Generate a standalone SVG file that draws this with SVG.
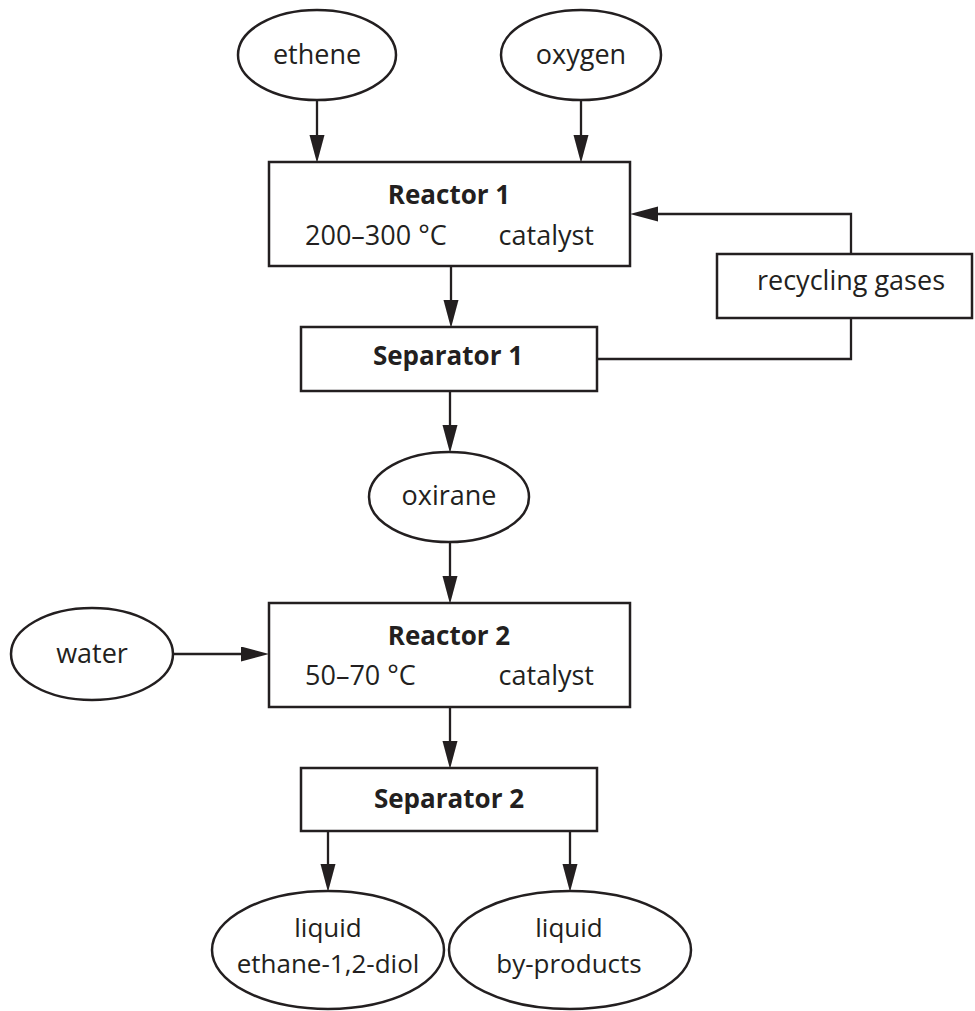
<svg xmlns="http://www.w3.org/2000/svg" width="975" height="1011" viewBox="0 0 975 1011">
<style>
.shape{fill:#fff;stroke:#231f20;stroke-width:2.5}
.line{fill:none;stroke:#231f20;stroke-width:2.3}
.t{font-family:"Open Sans","Noto Sans",sans-serif;font-size:27px;fill:#231f20;text-anchor:middle}
.p{font-size:26px}
.b{font-family:"Open Sans","Noto Sans",sans-serif;font-size:26px;font-weight:bold;fill:#231f20;text-anchor:middle}
.s{text-anchor:start}
.e{text-anchor:end}
</style>
<defs>
<marker id="ah" markerUnits="userSpaceOnUse" markerWidth="29" markerHeight="16" refX="17" refY="7.5" orient="auto">
<path d="M0,0 L28,7.5 L0,15 Z" fill="#231f20"/>
</marker>
</defs>
<rect width="975" height="1011" fill="#fff"/>
<g id="connectors">
<path class="line" d="M317,100 V152" marker-end="url(#ah)"/>
<path class="line" d="M581,100 V152" marker-end="url(#ah)"/>
<path class="line" d="M451,266 V317" marker-end="url(#ah)"/>
<path class="line" d="M450,391 V442" marker-end="url(#ah)"/>
<path class="line" d="M450,542 V593" marker-end="url(#ah)"/>
<path class="line" d="M173,654 H258" marker-end="url(#ah)"/>
<path class="line" d="M450,707 V758" marker-end="url(#ah)"/>
<path class="line" d="M328,831 V881" marker-end="url(#ah)"/>
<path class="line" d="M570,831 V881" marker-end="url(#ah)"/>
<path class="line" d="M597,359 H851 V318"/>
<path class="line" d="M851,254 V214 H641" marker-end="url(#ah)"/>
</g>
<g id="ethene">
<ellipse class="shape" cx="317" cy="55" rx="79" ry="45"/>
<text class="t" x="317" y="64">ethene</text>
</g>
<g id="oxygen">
<ellipse class="shape" cx="581" cy="55" rx="80" ry="45"/>
<text class="t" x="581" y="64">oxygen</text>
</g>
<g id="reactor1">
<rect class="shape" x="269" y="162" width="361" height="104"/>
<text class="b" x="449" y="204">Reactor 1</text>
<text class="t s" x="305" y="245">200–300 °C</text>
<text class="t e" x="594" y="245">catalyst</text>
</g>
<g id="recycling">
<rect class="shape" x="717" y="254" width="255" height="64"/>
<text class="t" x="851" y="290">recycling gases</text>
</g>
<g id="separator1">
<rect class="shape" x="301" y="327" width="296" height="64"/>
<text class="b" x="448" y="365">Separator 1</text>
</g>
<g id="oxirane">
<ellipse class="shape" cx="449" cy="497" rx="80" ry="45"/>
<text class="t" x="449" y="505">oxirane</text>
</g>
<g id="water">
<ellipse class="shape" cx="92" cy="654" rx="81" ry="46"/>
<text class="t" x="92" y="663">water</text>
</g>
<g id="reactor2">
<rect class="shape" x="269" y="603" width="361" height="104"/>
<text class="b" x="449" y="645">Reactor 2</text>
<text class="t s" x="305" y="685">50–70 °C</text>
<text class="t e" x="594" y="685">catalyst</text>
</g>
<g id="separator2">
<rect class="shape" x="301" y="768" width="296" height="63"/>
<text class="b" x="449" y="808">Separator 2</text>
</g>
<g id="product1">
<ellipse class="shape" cx="328" cy="950" rx="116" ry="59"/>
<text class="t p" x="328" y="937">liquid</text>
<text class="t p" x="328" y="973">ethane-1,2-diol</text>
</g>
<g id="product2">
<ellipse class="shape" cx="570" cy="950" rx="121" ry="59"/>
<text class="t p" x="569" y="937">liquid</text>
<text class="t p" x="569" y="973">by-products</text>
</g>
</svg>
